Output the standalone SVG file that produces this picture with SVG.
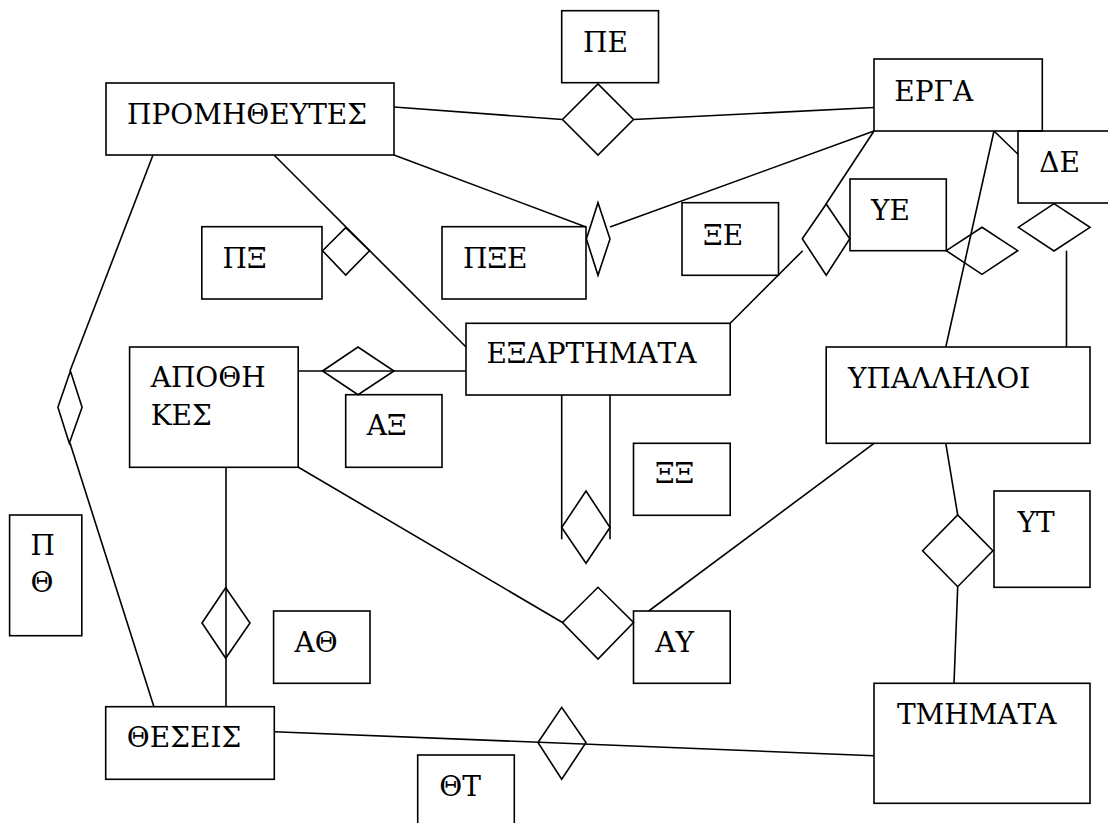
<svg xmlns="http://www.w3.org/2000/svg" width="1108" height="823" viewBox="0 0 1108 823">
<style>
rect.n{fill:none;stroke:#000;stroke-width:1.6}
polygon.r{fill:none;stroke:#000;stroke-width:1.6}
.c line{stroke:#000;stroke-width:1.6;fill:none}
text{font-family:'DejaVu Serif','Liberation Serif',serif;font-size:28px;fill:#000}
</style>
<rect x="0" y="0" width="1108" height="823" fill="#fff"/>
<g class="c" id="connectors">
<line x1="394" y1="107" x2="562.5" y2="119.5"/>
<line x1="633.5" y1="119.5" x2="874" y2="107.5"/>
<line x1="394" y1="155" x2="586" y2="227"/>
<line x1="610" y1="227" x2="874" y2="131"/>
<line x1="274" y1="155" x2="466" y2="347"/>
<line x1="153" y1="155" x2="70" y2="371"/>
<line x1="70" y1="443" x2="154" y2="707"/>
<line x1="298" y1="371" x2="466" y2="371"/>
<line x1="298" y1="467" x2="562.5" y2="622.5"/>
<line x1="874" y1="443.3" x2="648.7" y2="611"/>
<line x1="226" y1="467.3" x2="226" y2="707"/>
<line x1="274.3" y1="731.7" x2="874" y2="755.7"/>
<line x1="561.7" y1="395" x2="561.7" y2="539.3"/>
<line x1="610" y1="395" x2="610" y2="539.3"/>
<line x1="730.2" y1="323.3" x2="802.7" y2="250.7"/>
<line x1="874" y1="131" x2="826" y2="204"/>
<line x1="994" y1="131" x2="945.8" y2="347"/>
<line x1="994" y1="131" x2="1018" y2="154.3"/>
<line x1="1066.5" y1="250.7" x2="1066.5" y2="347"/>
<line x1="945.8" y1="443.3" x2="957.7" y2="515"/>
<line x1="957.7" y1="587" x2="954" y2="683.3"/>
</g>
<g id="rel-PE"><polygon class="r" points="562.5,119.5 598,84 633.5,119.5 598,155"/></g>
<g id="rel-PXE"><polygon class="r" points="586.4,239 598,202.7 610,239 598,275.3"/></g>
<g id="rel-PX"><polygon class="r" points="322.5,250.7 345.7,227.7 369.6,250.7 345.7,275"/></g>
<g id="rel-PTH"><polygon class="r" points="57.9,407.3 70.4,371 82.1,407.3 69.3,443.3"/></g>
<g id="rel-AX"><polygon class="r" points="322.5,371 358,347 394,371 358,394.7"/></g>
<g id="rel-AY"><polygon class="r" points="562.5,622.5 598,587.3 633.5,622.5 598,659"/></g>
<g id="rel-ATH"><polygon class="r" points="202,623 225.7,587.7 250,623 225.7,658.3"/></g>
<g id="rel-THT"><polygon class="r" points="538,742.5 561.7,707.3 586,742.5 561.7,779.3"/></g>
<g id="rel-XX"><polygon class="r" points="561.7,527.5 586,491 610,527.5 586,563.3"/></g>
<g id="rel-YE"><polygon class="r" points="802.3,238.7 826.2,204 849.8,238.7 826.2,275.3"/></g>
<g id="rel-YE2"><polygon class="r" points="946.3,250.7 982,227.3 1017.7,250.7 982,274.3"/></g>
<g id="rel-DE"><polygon class="r" points="1018.3,227.3 1054,203.7 1090,227.3 1054,251"/></g>
<g id="rel-YT"><polygon class="r" points="922.6,550.7 957.7,515 992.9,550.7 957.7,586.7"/></g>
<g id="promitheftes"><rect class="n" x="106" y="83" width="288" height="72"/><text x="127" y="124">ΠΡΟΜΗΘΕΥΤΕΣ</text></g>
<g id="pe"><rect class="n" x="561.7" y="10.7" width="96.8" height="72"/><text x="583" y="52.3">ΠΕ</text></g>
<g id="erga"><rect class="n" x="874" y="59" width="168.3" height="72"/><text x="894.3" y="100.7">ΕΡΓΑ</text></g>
<g id="de"><rect class="n" x="1018" y="131" width="100" height="72"/><text x="1039.3" y="172">ΔΕ</text></g>
<g id="px"><rect class="n" x="201.8" y="226.7" width="120.2" height="72.3"/><text x="222.5" y="267.7">ΠΞ</text></g>
<g id="pxe"><rect class="n" x="442" y="226.7" width="144" height="72.3"/><text x="463" y="267.7">ΠΞΕ</text></g>
<g id="xe"><rect class="n" x="682" y="202.7" width="96.5" height="72.6"/><text x="703" y="245">ΞΕ</text></g>
<g id="ye"><rect class="n" x="850" y="179" width="96.3" height="71.7"/><text x="871" y="220">ΥΕ</text></g>
<g id="exartimata"><rect class="n" x="466" y="323.3" width="264.2" height="71.7"/><text x="486.4" y="363.3">ΕΞΑΡΤΗΜΑΤΑ</text></g>
<g id="apothikes"><rect class="n" x="129.6" y="347" width="168.6" height="120.3"/><text x="150.7" y="386.7">ΑΠΟΘΗ</text><text x="150.7" y="425">ΚΕΣ</text></g>
<g id="ax"><rect class="n" x="345.7" y="394.7" width="96.3" height="72.6"/><text x="366.8" y="435.3">ΑΞ</text></g>
<g id="ypalliloi"><rect class="n" x="826.2" y="347" width="263.8" height="96.3"/><text x="848" y="388.3">ΥΠΑΛΛΗΛΟΙ</text></g>
<g id="xx"><rect class="n" x="633.5" y="443.3" width="96.7" height="72"/><text x="654.9" y="483.3">ΞΞ</text></g>
<g id="pth"><rect class="n" x="9.6" y="515" width="72.2" height="120.7"/><text x="30.4" y="555">Π</text><text x="30.4" y="592.3">Θ</text></g>
<g id="yt"><rect class="n" x="994" y="491" width="96" height="96.3"/><text x="1017.5" y="531.7">ΥΤ</text></g>
<g id="ath"><rect class="n" x="273.6" y="611" width="96.4" height="72.3"/><text x="294.6" y="651.7">ΑΘ</text></g>
<g id="ay"><rect class="n" x="633.5" y="611" width="96.7" height="72.3"/><text x="655.2" y="651.7">ΑΥ</text></g>
<g id="theseis"><rect class="n" x="105.7" y="706.7" width="168.6" height="72.6"/><text x="126.8" y="747.3">ΘΕΣΕΙΣ</text></g>
<g id="tmimata"><rect class="n" x="874" y="683.3" width="216" height="120"/><text x="896.9" y="724">ΤΜΗΜΑΤΑ</text></g>
<g id="tht"><rect class="n" x="417.7" y="755" width="96.6" height="100"/><text x="439.3" y="795.7">ΘΤ</text></g>
</svg>
